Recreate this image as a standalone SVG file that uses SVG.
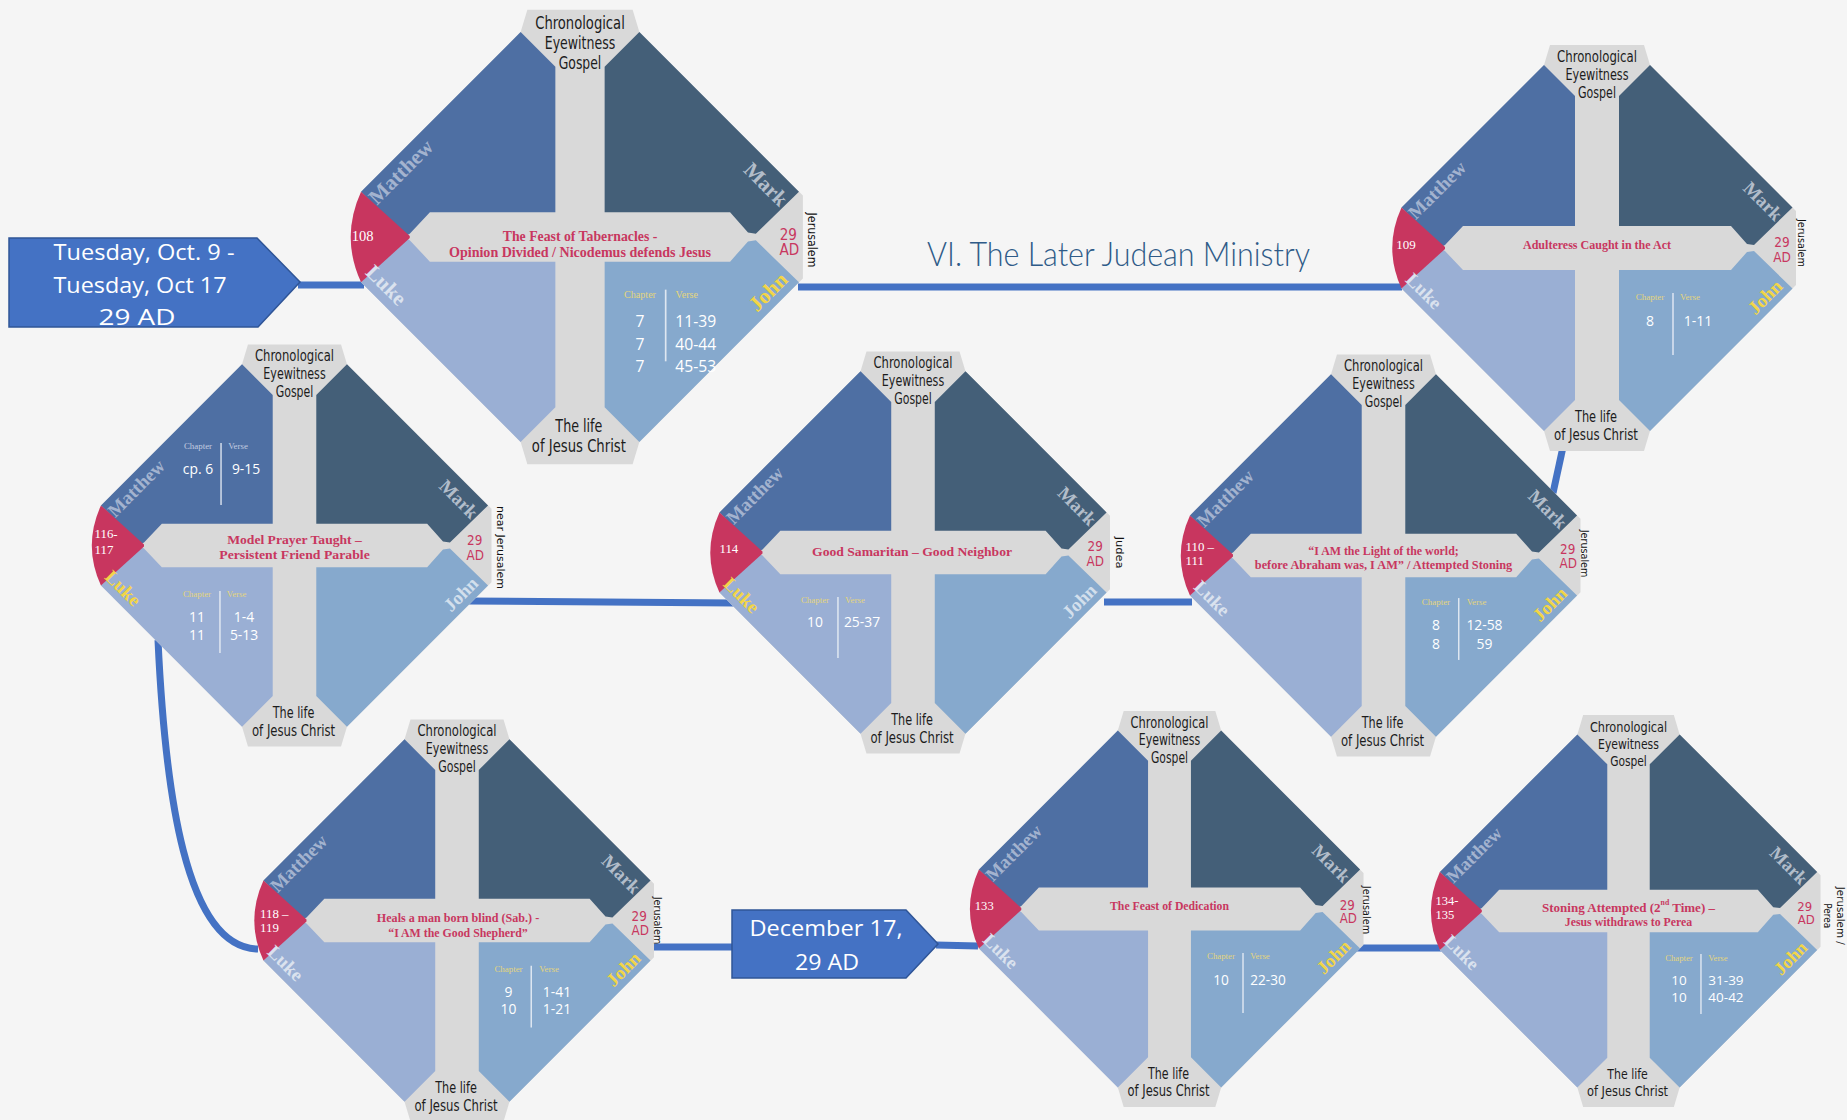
<svg xmlns="http://www.w3.org/2000/svg" xmlns:xlink="http://www.w3.org/1999/xlink" width="1847" height="1120" viewBox="0 0 1847 1120">
<style>
.cq{font-family:'DejaVu Sans Condensed','DejaVu Sans',sans-serif;font-stretch:condensed;font-size:15.5px;fill:#1c1c1c;text-anchor:middle;dominant-baseline:central}
.gl{font-family:'Liberation Serif',serif;font-weight:bold;font-size:19px;text-anchor:middle;dominant-baseline:central}
.mt{fill:#a3b3cf}.mk{fill:#b2bdca}.lk{fill:#dae2ee}.jn{fill:#d2dfec}.yl{fill:#f2d547}
.ttl{font-family:'Liberation Serif',serif;font-weight:bold;font-size:13.5px;fill:#c8375f;text-anchor:middle;dominant-baseline:central}
.num{font-family:'Liberation Serif',serif;font-size:13px;fill:#fff;dominant-baseline:central}
.ad{font-family:'DejaVu Sans Condensed','DejaVu Sans',sans-serif;font-stretch:condensed;font-size:13.5px;fill:#c8375f;text-anchor:middle;dominant-baseline:central}
.pl{font-family:'DejaVu Sans',sans-serif;font-size:10.5px;fill:#111;text-anchor:middle;dominant-baseline:central}
.hd{font-family:'Liberation Serif',serif;font-size:9px;fill:#e4d57c;text-anchor:middle;dominant-baseline:central}
.hdm{fill:#c3cce0}
.cv{font-family:'Open Sans',sans-serif;font-size:14px;fill:#fff;text-anchor:middle;dominant-baseline:central}
.dv{stroke:#eef2f8;stroke-width:1.5;opacity:.85}
.lb{font-family:'Open Sans',sans-serif;font-size:21px;fill:#fff;text-anchor:middle;dominant-baseline:central}
.box{fill:#4472c4;stroke:#2f5597;stroke-width:1.5}
.cn{fill:none;stroke:#4472c4;stroke-width:7}
</style>
<defs>
<g id="dia">
<polygon fill="#d9d9d9" points="-47,-203 47,-203 53,-183 199,-37 199,37 53,183 47,203 -47,203 -53,183 -195.5,40.5 -195.5,-40.5 -53,-183"/>
<polygon fill="#4e6fa3" points="-53,-183 -22,-152 -22,-22 -134,-22 -152,-3 -156,-1 -195.5,-40.5"/>
<polygon fill="#445f78" points="53,-183 22,-152 22,-22 134,-22 150,-4 157,-3 195.5,-40.5"/>
<polygon fill="#9aafd4" points="-53,183 -22,152 -22,22 -134,22 -152,3 -156,1 -195.5,40.5"/>
<polygon fill="#86a9cd" points="53,183 22,152 22,22 134,22 150,4 157,3 195.5,40.5"/>
<path fill="#c8365f" d="M-195.5,-40.5 L-152,-1 L-152,1 L-195.5,40.5 Q-214,0 -195.5,-40.5 Z"/>
<text class="cq" x="0" y="-191" textLength="80" lengthAdjust="spacingAndGlyphs">Chronological</text>
<text class="cq" x="0" y="-173" textLength="63" lengthAdjust="spacingAndGlyphs">Eyewitness</text>
<text class="cq" x="0" y="-155" textLength="38" lengthAdjust="spacingAndGlyphs">Gospel</text>
<text class="cq" x="-1" y="169" textLength="42" lengthAdjust="spacingAndGlyphs">The life</text>
<text class="cq" x="-1" y="187" textLength="84" lengthAdjust="spacingAndGlyphs">of Jesus Christ</text>
</g>
</defs>
<rect width="1847" height="1120" fill="#f5f5f5"/>
<text x="1118.5" y="252" font-family="Lato,'Open Sans',sans-serif" font-weight="300" font-size="34" fill="#2f5b88" text-anchor="middle" dominant-baseline="central" textLength="383" lengthAdjust="spacingAndGlyphs">VI. The Later Judean Ministry</text>

<g id="connectors">
<path class="cn" d="M298,285 H364"/>
<path class="cn" d="M798,287 L1402,287"/>
<path class="cn" d="M1563,447 L1553,493"/>
<path class="cn" d="M1104,602 L1192,602"/>
<path class="cn" d="M468,601 L734,603"/>
<path class="cn" d="M158,640 C165,790 185,948 258,949"/>
<path class="cn" d="M651,947 H734"/>
<path class="cn" d="M936,945 L978,946"/>
<path class="cn" d="M1356,948 L1444,948"/>
</g>

<g id="label-oct">
<polygon class="box" points="9,238 257,238 300,282 258,327 9,327"/>
<text class="lb" x="144" y="252" textLength="181" lengthAdjust="spacingAndGlyphs">Tuesday, Oct. 9  -</text>
<text class="lb" x="140" y="285" textLength="173" lengthAdjust="spacingAndGlyphs">Tuesday, Oct 17</text>
<text class="lb" x="137" y="317" textLength="77" lengthAdjust="spacingAndGlyphs">29 AD</text>
</g>

<g id="label-dec">
<polygon class="box" points="732,910 906,910 938,944 906,978 732,978"/>
<text class="lb" x="826" y="928" textLength="153" lengthAdjust="spacingAndGlyphs">December 17,</text>
<text class="lb" x="827" y="962" textLength="64" lengthAdjust="spacingAndGlyphs">29 AD</text>
</g>

<g id="node-108" transform="translate(580,237) scale(1.12)">
<use href="#dia" xlink:href="#dia"/>
<text class="gl mt" transform="translate(-160,-58) rotate(-45)">Matthew</text>
<text class="gl mk" transform="translate(166,-47) rotate(45)">Mark</text>
<text class="gl lk" transform="translate(-173,43) rotate(45)">Luke</text>
<text class="gl yl" transform="translate(168,49) rotate(-45)">John</text>
<text class="num" x="-194" y="-1" text-anchor="middle">108</text>
<text class="ttl" x="0" y="-1.2" textLength="138" lengthAdjust="spacingAndGlyphs">The Feast of Tabernacles -</text>
<text class="ttl" x="0" y="13" textLength="234" lengthAdjust="spacingAndGlyphs">Opinion Divided / Nicodemus defends Jesus</text>
<text class="ad" x="186" y="-2">29</text>
<text class="ad" x="187" y="11.5">AD</text>
<text class="pl" transform="translate(207,2.7) rotate(90)" textLength="49" lengthAdjust="spacingAndGlyphs">Jerusalem</text>
<text class="hd" x="53.6" y="51.2">Chapter</text>
<text class="hd" x="95.3" y="51.2">Verse</text>
<line class="dv" x1="76.5" y1="47" x2="76.5" y2="111"/>
<text class="cv" x="53.6" y="74.7">7</text>
<text class="cv" x="53.6" y="95.8">7</text>
<text class="cv" x="53.6" y="114.9">7</text>
<text class="cv" x="103.3" y="74.7">11-39</text>
<text class="cv" x="103.3" y="95.8">40-44</text>
<text class="cv" x="103.3" y="114.9">45-53</text>
</g>

<g id="node-109" transform="translate(1597,248)">
<use href="#dia" xlink:href="#dia"/>
<text class="gl mt" transform="translate(-160,-58) rotate(-45)">Matthew</text>
<text class="gl mk" transform="translate(166,-47) rotate(45)">Mark</text>
<text class="gl lk" transform="translate(-173,43) rotate(45)">Luke</text>
<text class="gl yl" transform="translate(168,49) rotate(-45)">John</text>
<text class="num" x="-191" y="-4" text-anchor="middle">109</text>
<text class="ttl" x="0" y="-4" textLength="148" lengthAdjust="spacingAndGlyphs">Adulteress Caught in the Act</text>
<text class="ad" x="185" y="-6">29</text>
<text class="ad" x="185" y="9">AD</text>
<text class="pl" transform="translate(205,-5) rotate(90)" textLength="48" lengthAdjust="spacingAndGlyphs">Jerusalem</text>
<text class="hd" x="53" y="49">Chapter</text>
<text class="hd" x="93" y="49">Verse</text>
<line class="dv" x1="76" y1="45" x2="76" y2="107"/>
<text class="cv" x="53" y="72">8</text>
<text class="cv" x="101" y="72">1-11</text>
</g>

<g id="node-116" transform="translate(294.5,545.5) scale(0.99)">
<use href="#dia" xlink:href="#dia"/>
<text class="gl mt" transform="translate(-160,-58) rotate(-45)">Matthew</text>
<text class="gl mk" transform="translate(166,-47) rotate(45)">Mark</text>
<text class="gl yl" transform="translate(-173,43) rotate(45)">Luke</text>
<text class="gl jn" transform="translate(168,49) rotate(-45)">John</text>
<text class="num" x="-202" y="-11.5">116-</text>
<text class="num" x="-202" y="5">117</text>
<text class="ttl" x="0" y="-6" textLength="136" lengthAdjust="spacingAndGlyphs">Model Prayer Taught –</text>
<text class="ttl" x="0" y="9.3" textLength="152" lengthAdjust="spacingAndGlyphs">Persistent Friend Parable</text>
<text class="ad" x="182" y="-5">29</text>
<text class="ad" x="182.5" y="10">AD</text>
<text class="pl" transform="translate(208.5,2) rotate(90)" textLength="84" lengthAdjust="spacingAndGlyphs">near Jerusalem</text>
<text class="hd hdm" x="-97.5" y="-100.5">Chapter</text>
<text class="hd hdm" x="-57" y="-100.5">Verse</text>
<line class="dv" x1="-74.2" y1="-103.5" x2="-74.2" y2="-41"/>
<text class="cv" x="-97.5" y="-77.3">cp. 6</text>
<text class="cv" x="-49" y="-77.3">9-15</text>
<text class="hd" x="-98.5" y="49">Chapter</text>
<text class="hd" x="-58.5" y="49">Verse</text>
<line class="dv" x1="-75.3" y1="46" x2="-75.3" y2="108.6"/>
<text class="cv" x="-98.5" y="72.2">11</text>
<text class="cv" x="-98.5" y="89.4">11</text>
<text class="cv" x="-51" y="72.2">1-4</text>
<text class="cv" x="-51" y="89.4">5-13</text>
</g>

<g id="node-114" transform="translate(913,552.5) scale(0.99)">
<use href="#dia" xlink:href="#dia"/>
<text class="gl mt" transform="translate(-160,-58) rotate(-45)">Matthew</text>
<text class="gl mk" transform="translate(166,-47) rotate(45)">Mark</text>
<text class="gl yl" transform="translate(-173,43) rotate(45)">Luke</text>
<text class="gl jn" transform="translate(168,49) rotate(-45)">John</text>
<text class="num" x="-186" y="-3.5" text-anchor="middle">114</text>
<text class="ttl" x="-1" y="-1" textLength="202" lengthAdjust="spacingAndGlyphs">Good Samaritan – Good Neighbor</text>
<text class="ad" x="184" y="-6">29</text>
<text class="ad" x="184" y="9.3">AD</text>
<text class="pl" transform="translate(209,0) rotate(90)" textLength="32" lengthAdjust="spacingAndGlyphs">Judea</text>
<text class="hd" x="-99" y="48">Chapter</text>
<text class="hd" x="-58.6" y="48">Verse</text>
<line class="dv" x1="-75.8" y1="45" x2="-75.8" y2="106.6"/>
<text class="cv" x="-99" y="70.2">10</text>
<text class="cv" x="-51.5" y="70.2">25-37</text>
</g>

<g id="node-110" transform="translate(1383.5,555.5) scale(0.99)">
<use href="#dia" xlink:href="#dia"/>
<text class="gl mt" transform="translate(-160,-58) rotate(-45)">Matthew</text>
<text class="gl mk" transform="translate(166,-47) rotate(45)">Mark</text>
<text class="gl lk" transform="translate(-173,43) rotate(45)">Luke</text>
<text class="gl yl" transform="translate(168,49) rotate(-45)">John</text>
<text class="num" x="-200" y="-9">110 –</text>
<text class="num" x="-200" y="5.5">111</text>
<text class="ttl" x="0" y="-5.5" textLength="152" lengthAdjust="spacingAndGlyphs">“I AM the Light of the world;</text>
<text class="ttl" x="0" y="9" textLength="260" lengthAdjust="spacingAndGlyphs">before Abraham was, I AM”  / Attempted Stoning</text>
<text class="ad" x="186" y="-6.3">29</text>
<text class="ad" x="186.7" y="7.9">AD</text>
<text class="pl" transform="translate(203.5,-2) rotate(90)" textLength="48" lengthAdjust="spacingAndGlyphs">Jerusalem</text>
<text class="hd" x="53" y="47">Chapter</text>
<text class="hd" x="94" y="47">Verse</text>
<line class="dv" x1="76" y1="43" x2="76" y2="105.5"/>
<text class="cv" x="53" y="70">8</text>
<text class="cv" x="53" y="88.4">8</text>
<text class="cv" x="102" y="70">12-58</text>
<text class="cv" x="102" y="88.4">59</text>
</g>

<g id="node-118" transform="translate(457,920.5) scale(0.99)">
<use href="#dia" xlink:href="#dia"/>
<text class="gl mt" transform="translate(-160,-58) rotate(-45)">Matthew</text>
<text class="gl mk" transform="translate(166,-47) rotate(45)">Mark</text>
<text class="gl lk" transform="translate(-173,43) rotate(45)">Luke</text>
<text class="gl yl" transform="translate(168,49) rotate(-45)">John</text>
<text class="num" x="-199" y="-6.5">118 –</text>
<text class="num" x="-199" y="7.5">119</text>
<text class="ttl" x="1" y="-3.2" textLength="164" lengthAdjust="spacingAndGlyphs">Heals a man born blind (Sab.) -</text>
<text class="ttl" x="1" y="11.8" textLength="141" lengthAdjust="spacingAndGlyphs">“I AM the Good Shepherd”</text>
<text class="ad" x="184" y="-3.8">29</text>
<text class="ad" x="185" y="10.6">AD</text>
<text class="pl" transform="translate(203,0) rotate(90)" textLength="48" lengthAdjust="spacingAndGlyphs">Jerusalem</text>
<text class="hd" x="52" y="48.5">Chapter</text>
<text class="hd" x="93" y="48.5">Verse</text>
<line class="dv" x1="75" y1="45.6" x2="75" y2="108"/>
<text class="cv" x="52" y="71.5">9</text>
<text class="cv" x="52" y="88.5">10</text>
<text class="cv" x="101" y="71.5">1-41</text>
<text class="cv" x="101" y="88.5">1-21</text>
</g>

<g id="node-133" transform="translate(1169.5,909) scale(0.975)">
<use href="#dia" xlink:href="#dia"/>
<text class="gl mt" transform="translate(-160,-58) rotate(-45)">Matthew</text>
<text class="gl mk" transform="translate(166,-47) rotate(45)">Mark</text>
<text class="gl lk" transform="translate(-173,43) rotate(45)">Luke</text>
<text class="gl yl" transform="translate(168,49) rotate(-45)">John</text>
<text class="num" x="-190" y="-3.3" text-anchor="middle">133</text>
<text class="ttl" x="0" y="-3.4" textLength="122" lengthAdjust="spacingAndGlyphs">The Feast of Dedication</text>
<text class="ad" x="182.4" y="-4.1">29</text>
<text class="ad" x="183.4" y="9.6">AD</text>
<text class="pl" transform="translate(202.5,1) rotate(90)" textLength="49.6" lengthAdjust="spacingAndGlyphs">Jerusalem</text>
<text class="hd" x="52.8" y="48.2">Chapter</text>
<text class="hd" x="92.8" y="48.2">Verse</text>
<line class="dv" x1="75.4" y1="45" x2="75.4" y2="106.7"/>
<text class="cv" x="52.8" y="71.8">10</text>
<text class="cv" x="101" y="71.8">22-30</text>
</g>

<g id="node-134" transform="translate(1628.5,911) scale(0.965)">
<use href="#dia" xlink:href="#dia"/>
<text class="gl mt" transform="translate(-160,-58) rotate(-45)">Matthew</text>
<text class="gl mk" transform="translate(166,-47) rotate(45)">Mark</text>
<text class="gl lk" transform="translate(-173,43) rotate(45)">Luke</text>
<text class="gl yl" transform="translate(168,49) rotate(-45)">John</text>
<text class="num" x="-200" y="-10.4">134-</text>
<text class="num" x="-200" y="4.1">135</text>
<text class="ttl" x="0" y="-3.8">Stoning Attempted (2<tspan font-size="8" baseline-shift="super">nd</tspan> Time) –</text>
<text class="ttl" x="0" y="11" textLength="132" lengthAdjust="spacingAndGlyphs">Jesus withdraws to Perea</text>
<text class="ad" x="182.6" y="-4.5">29</text>
<text class="ad" x="184.3" y="9.3">AD</text>
<text class="pl" transform="translate(219.2,4.9) rotate(90)" textLength="60" lengthAdjust="spacingAndGlyphs">Jerusalem /</text>
<text class="pl" transform="translate(205.7,4.9) rotate(90)" textLength="26" lengthAdjust="spacingAndGlyphs">Perea</text>
<text class="hd" x="52.3" y="48.7">Chapter</text>
<text class="hd" x="92.7" y="48.7">Verse</text>
<line class="dv" x1="75.1" y1="44.6" x2="75.1" y2="106.7"/>
<text class="cv" x="52.3" y="71.5">10</text>
<text class="cv" x="52.3" y="89.1">10</text>
<text class="cv" x="101" y="71.5">31-39</text>
<text class="cv" x="101" y="89.1">40-42</text>
</g>
</svg>
